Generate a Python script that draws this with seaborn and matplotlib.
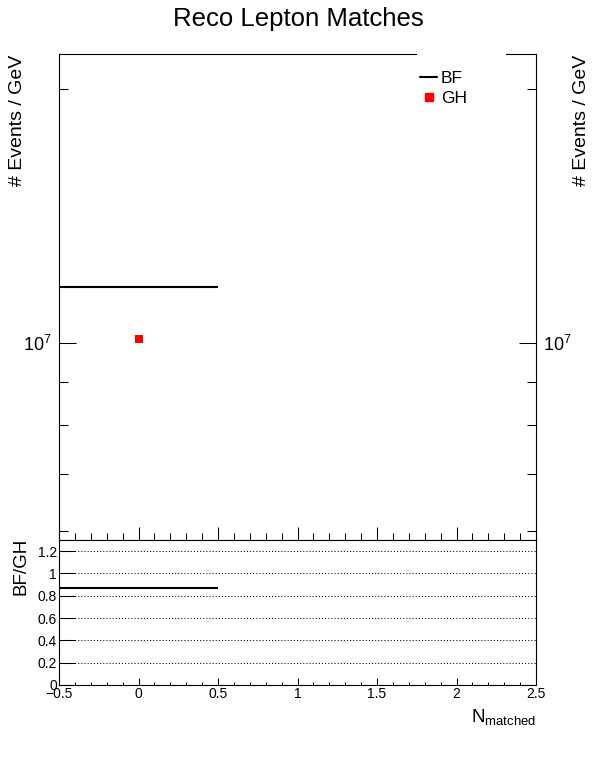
import matplotlib
matplotlib.use('Agg')
import matplotlib.pyplot as plt
from matplotlib.ticker import FixedLocator, FixedFormatter, NullFormatter, MultipleLocator
from matplotlib.patches import Rectangle
from matplotlib.lines import Line2D
import seaborn as sns
import pandas as pd

# one bin in N_matched
bin_lo = [-0.5]
bin_hi = [0.5]
bin_center = [0.0]
bf_counts = [1.166e7]
gh_counts = [1.011e7]
ratio_vals = [0.873]

x_ticks = [-0.5, 0, 0.5, 1, 1.5, 2, 2.5]
x_labels = ['\u22120.5', '0', '0.5', '1', '1.5', '2', '2.5']
ratio_ticks = [0, 0.2, 0.4, 0.6, 0.8, 1.0, 1.2]
ratio_labels = ['0', '0.2', '0.4', '0.6', '0.8', '1', '1.2']

sns.set_style('ticks')
plt.rcParams['font.family'] = ['Liberation Sans', 'DejaVu Sans']
plt.rcParams['mathtext.fontset'] = 'custom'
plt.rcParams['mathtext.rm'] = 'Liberation Sans'
plt.rcParams['mathtext.it'] = 'Liberation Sans:italic'
plt.rcParams['axes.linewidth'] = 0.8
for k in ['text.color', 'axes.labelcolor', 'xtick.color', 'ytick.color', 'axes.edgecolor']:
    plt.rcParams[k] = 'black'

W, H = 596, 772
fig = plt.figure(figsize=(W / 100, H / 100), dpi=100)


def box(l, t, r, b):
    return [l / W, 1 - b / H, (r - l) / W, (b - t) / H]


ax = fig.add_axes(box(59, 54, 536, 540))
ax2 = fig.add_axes(box(59, 540, 536, 685))

# top panel
ax.hlines(bf_counts, bin_lo, bin_hi, color='black', lw=1.5, zorder=4)
gh_df = pd.DataFrame({'x': bin_center, 'y': gh_counts})
sns.scatterplot(data=gh_df, x='x', y='y', marker='s', color='red', s=34,
                linewidth=0, ax=ax, zorder=5)
ax.set_yscale('log')
ax.set_xlim(-0.5, 2.5)
ax.set_ylim(5.85e6, 2.2e7)
ax.yaxis.set_major_locator(FixedLocator([1e7]))
ax.yaxis.set_major_formatter(FixedFormatter([r'$10^{7}$']))
ax.yaxis.set_minor_locator(FixedLocator([6e6, 7e6, 8e6, 9e6, 2e7]))
ax.yaxis.set_minor_formatter(NullFormatter())
ax.xaxis.set_major_locator(FixedLocator(x_ticks))
ax.xaxis.set_minor_locator(MultipleLocator(0.1))
ax.set_xlabel('')
ax.set_ylabel('')
ax.tick_params(axis='y', which='both', direction='in', left=True, right=True,
               labelleft=True, labelright=True, labelsize=13, pad=5, width=0.75)
ax.tick_params(axis='y', which='major', length=12.5)
ax.tick_params(axis='y', which='minor', length=6.2)
ax.tick_params(axis='x', which='both', direction='in', bottom=True, top=False,
               labelbottom=False, width=0.75)
ax.tick_params(axis='x', which='major', length=9.5)
ax.tick_params(axis='x', which='minor', length=5)
for s in ax.spines.values():
    s.set_visible(True)

# legend box hides part of the frame
ax.add_patch(Rectangle((417 / W, 1 - 58 / H), 89 / W, 8 / H, transform=fig.transFigure,
                       facecolor='white', edgecolor='none', zorder=6, clip_on=False))
handles = [Line2D([], [], color='black', lw=1.5),
           Line2D([], [], marker='s', color='red', ls='none', markersize=5.8)]
fig.legend(handles, ['BF', 'GH'], loc='upper left', bbox_to_anchor=(420 / W, 1 - 71 / H),
           frameon=False, fontsize=12.5, handlelength=1.0, handletextpad=0.2,
           labelspacing=0.28, borderpad=0, borderaxespad=0)

# ratio panel
ax2.hlines(ratio_vals, bin_lo, bin_hi, color='black', lw=1.5, zorder=4)
ax2.set_xlim(-0.5, 2.5)
ax2.set_ylim(0, 1.3)
ax2.yaxis.set_major_locator(FixedLocator(ratio_ticks))
ax2.yaxis.set_major_formatter(FixedFormatter(ratio_labels))
ax2.xaxis.set_major_locator(FixedLocator(x_ticks))
ax2.xaxis.set_major_formatter(FixedFormatter(x_labels))
ax2.xaxis.set_minor_locator(MultipleLocator(0.1))
ax2.yaxis.grid(True, linestyle=(0, (1, 2)), color='black', linewidth=0.75)
ax2.tick_params(axis='y', which='major', direction='in', left=True, right=False,
                length=11.5, width=0.75, labelsize=10, pad=1.5)
ax2.tick_params(axis='x', which='both', direction='in', bottom=True, top=False,
                labelsize=10, pad=1.5, width=0.75)
ax2.tick_params(axis='x', which='major', length=5)
ax2.tick_params(axis='x', which='minor', length=2.5)
for s in ax2.spines.values():
    s.set_visible(True)

# texts
fig.text(0.5, 1 - 19 / H, 'Reco Lepton Matches', ha='center', va='center', fontsize=18.5)
fig.text(18 / W, 1 - 55 / H, '# Events / GeV', rotation=90, ha='center', va='top', fontsize=14)
fig.text(582 / W, 1 - 55 / H, '# Events / GeV', rotation=90, ha='center', va='top', fontsize=14)
fig.text(21 / W, 1 - 538 / H, 'BF/GH', rotation=90, ha='center', va='top', fontsize=13.5)
fig.text(536 / W, 1 - 722 / H, r'N$_{\mathrm{matched}}$', ha='right', va='baseline', fontsize=13.5)

fig.savefig('out.png', dpi=100)
